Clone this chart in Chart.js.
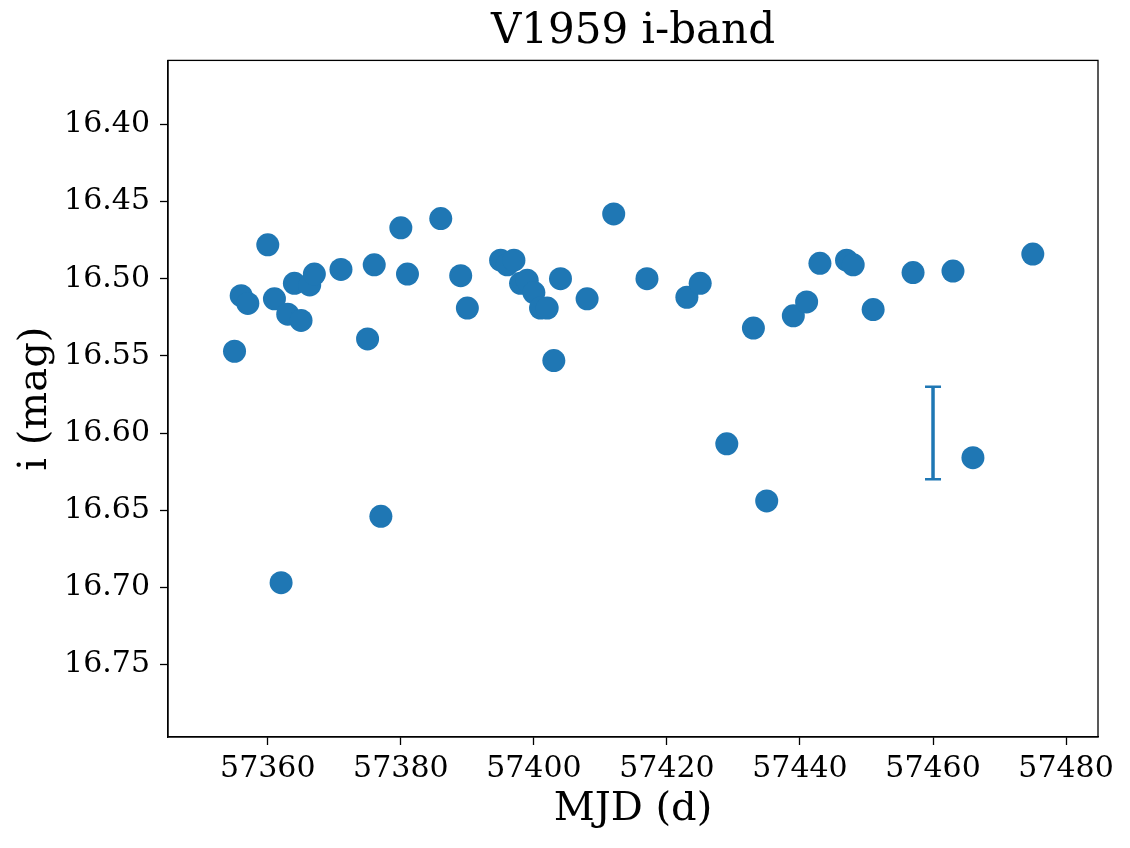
<!DOCTYPE html>
<html>
<head>
<meta charset="utf-8">
<script src="https://cdn.jsdelivr.net/npm/chart.js@4.4.1/dist/chart.umd.min.js"></script>
<style>
  html, body { margin: 0; padding: 0; background: #fff; }
  #wrap { width: 1130px; height: 848px; }
</style>
</head>
<body>
<div id="wrap"><canvas id="lc"></canvas></div>
<script>
// observation dates (MJD) and i-band magnitudes
const mjd = [
  57355, 57356, 57357, 57360, 57361, 57362, 57363, 57364, 57365, 57366.3,
  57367, 57371, 57375, 57376, 57377, 57380, 57381, 57386, 57389, 57390,
  57395, 57396, 57397, 57398, 57399, 57400, 57401, 57402, 57403, 57404,
  57408, 57412, 57417, 57423, 57425, 57429, 57433, 57435, 57439, 57441,
  57443, 57447, 57448, 57451, 57457, 57463, 57466, 57475
];
const imag = [
  16.547, 16.511, 16.516, 16.478, 16.513, 16.697, 16.523, 16.503, 16.527, 16.504,
  16.497, 16.494, 16.539, 16.491, 16.654, 16.467, 16.497, 16.461, 16.498, 16.519,
  16.488, 16.491, 16.488, 16.503, 16.501, 16.509, 16.519, 16.519, 16.553, 16.500,
  16.513, 16.458, 16.500, 16.512, 16.503, 16.607, 16.532, 16.644, 16.524, 16.515,
  16.490, 16.488, 16.491, 16.520, 16.496, 16.495, 16.616, 16.484
];

// representative error bar
const errX = 57460;
const errY = 16.60;
const errSize = 0.03;

const xTicks = [57360, 57380, 57400, 57420, 57440, 57460, 57480];
const yTicks = [16.40, 16.45, 16.50, 16.55, 16.60, 16.65, 16.70, 16.75];

const serif = '"DejaVu Serif", "Liberation Serif", serif';
const blue = '#1f77b4';

const points = mjd.map((d, i) => ({ x: d, y: imag[i] }));
const errLine = [{ x: errX, y: errY - errSize }, { x: errX, y: errY + errSize }];

const frame = {
  id: 'frame',
  afterDraw(chart) {
    const { ctx, chartArea: a } = chart;
    ctx.save();
    ctx.strokeStyle = '#000';
    ctx.lineWidth = 1.3;
    ctx.strokeRect(a.left, a.top, a.right - a.left, a.bottom - a.top);
    ctx.restore();
  }
};

new Chart(document.getElementById('lc'), {
  type: 'scatter',
  data: {
    datasets: [
      {
        data: points,
        backgroundColor: blue,
        borderWidth: 0,
        pointRadius: 11.5,
        pointHoverRadius: 11.5
      },
      {
        type: 'line',
        data: errLine,
        borderColor: blue,
        borderWidth: 3.5,
        showLine: true,
        pointStyle: 'line',
        pointRadius: 8,
        pointBorderWidth: 2.5,
        pointBorderColor: blue
      }
    ]
  },
  options: {
    responsive: true,
    maintainAspectRatio: false,
    animation: false,
    layout: { padding: { left: 0, right: 32, top: 0, bottom: 0 } },
    plugins: {
      legend: { display: false },
      tooltip: { enabled: false },
      title: {
        display: true,
        fullSize: false,
        text: 'V1959 i-band',
        color: '#000',
        font: { family: serif, size: 42, weight: 'normal' },
        padding: { top: 7, bottom: 3 }
      }
    },
    scales: {
      x: {
        type: 'linear',
        min: 57345,
        max: 57484.8,
        afterBuildTicks: s => { s.ticks = xTicks.map(v => ({ value: v })); },
        afterFit: s => { s.height = 111; },
        grid: { drawOnChartArea: false, tickLength: 8, tickColor: '#000', tickWidth: 1.3 },
        border: { color: '#000', width: 1.3 },
        ticks: {
          color: '#000',
          font: { family: serif, size: 30 },
          padding: 6,
          maxRotation: 0,
          callback: v => String(v)
        },
        title: {
          display: true,
          text: 'MJD (d)',
          color: '#000',
          font: { family: serif, size: 40 },
          padding: { top: 0, bottom: 14 }
        }
      },
      y: {
        type: 'linear',
        reverse: true,
        min: 16.3585,
        max: 16.797,
        afterBuildTicks: s => { s.ticks = yTicks.map(v => ({ value: v })); },
        afterFit: s => { s.width = 168; },
        grid: { drawOnChartArea: false, tickLength: 8, tickColor: '#000', tickWidth: 1.3 },
        border: { color: '#000', width: 1.3 },
        ticks: {
          color: '#000',
          font: { family: serif, size: 30 },
          padding: 10,
          callback: v => Number(v).toFixed(2)
        },
        title: {
          display: true,
          text: 'i (mag)',
          color: '#000',
          font: { family: serif, size: 40 },
          padding: { top: 12, bottom: 0 }
        }
      }
    }
  },
  plugins: [frame]
});
</script>
</body>
</html>
